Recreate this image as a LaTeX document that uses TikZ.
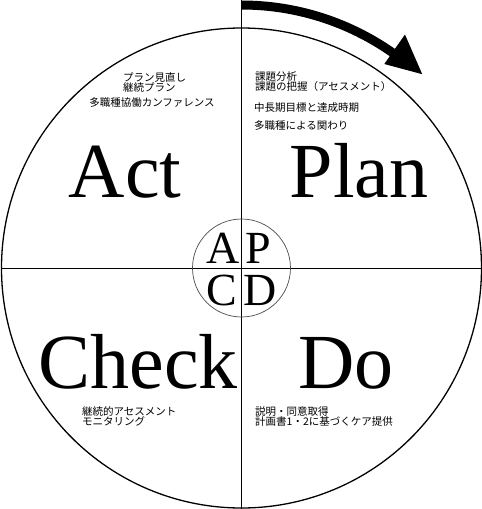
\documentclass[tikz,border=0pt]{standalone}
\usepackage{fontspec}
\setmainfont{Liberation Serif}
\newfontfamily\jpfont{Noto Sans CJK JP}
\begin{document}
\begin{tikzpicture}[x=1pt,y=1pt]
  \useasboundingbox (-241.5,-241) rectangle (240.5,268);
  \node[circle,draw,line width=1.3pt,minimum size=480pt,inner sep=0pt] (wheel) at (0,0) {};
  \coordinate (top) at (0,268);
  \draw[line width=0.8pt] (wheel.west) -- (wheel.east);
  \draw[line width=0.8pt] (top) -- (wheel.south);
  \node[circle,draw=black!70,line width=0.7pt,minimum size=98pt,inner sep=0pt] (hub) at (0,0) {};
  % turning arrow over the top right
  \pgfmathsetmacro\rin{258.5}
  \pgfmathsetmacro\rout{267.5}
  \fill (90:\rin) arc[start angle=90,end angle=55,radius=\rin pt]
    -- (55:249) -- (47:265) -- (55:285) -- (55:\rout)
    arc[start angle=55,end angle=90,radius=\rout pt] -- cycle;
  \foreach \nm/\txt/\xx/\yy in {act/Act/-116.5/71,plan/Plan/117.5/71,check/Check/-103.5/-120,do/Do/104.5/-120} {
    \node[font=\fontsize{78}{80}\selectfont,anchor=base,inner sep=0pt] (\nm) at (\xx,\yy) {\txt};
  }
  \node[font=\fontsize{46}{48}\selectfont,anchor=base east,inner sep=0pt] (hubA) at (-1.5,5) {A};
  \node[font=\fontsize{46}{48}\selectfont,anchor=base west,inner sep=0pt] (hubP) at (3.5,5) {P};
  \node[font=\fontsize{46}{48}\selectfont,anchor=base east,inner sep=0pt] (hubC) at (-4.5,-37) {C};
  \node[font=\fontsize{46}{48}\selectfont,anchor=base west,inner sep=0pt] (hubD) at (1.5,-37) {D};
  % notes per quadrant
  \node[font=\jpfont\fontsize{10.5}{12}\selectfont,anchor=base west,inner sep=0pt] (act1) at (-118.5,186) {プラン見直し};
  \node[font=\jpfont\fontsize{10.5}{12}\selectfont,anchor=base west,inner sep=0pt] (act2) at (-118.5,176) {継続プラン};
  \node[font=\jpfont\fontsize{10.5}{12}\selectfont,anchor=base,inner sep=0pt] (act3) at (-89.5,161) {多職種協働カンファレンス};
  \foreach \txt/\xx/\yy [count=\i] in {課題分析/13.5/187,課題の把握（アセスメント）/13.5/177,中長期目標と達成時期/12.5/157,多職種による関わり/12.5/139} {
    \node[font=\jpfont\fontsize{10.5}{12}\selectfont,anchor=base west,inner sep=0pt] (plan\i) at (\xx,\yy) {\txt};
  }
  \node[font=\jpfont\fontsize{10.5}{12}\selectfont,anchor=base west,inner sep=0pt] (check1) at (-159.5,-147) {継続的アセスメント};
  \node[font=\jpfont\fontsize{10.5}{12}\selectfont,anchor=base west,inner sep=0pt] (check2) at (-159.5,-157) {モニタリング};
  \node[font=\jpfont\fontsize{10.5}{12}\selectfont,anchor=base west,inner sep=0pt] (do1) at (13.5,-147) {説明・同意取得};
  \node[font=\jpfont\fontsize{10.5}{12}\selectfont,anchor=base west,inner sep=0pt] (do2) at (13.5,-157) {計画書1・2に基づくケア提供};
\end{tikzpicture}
\end{document}
